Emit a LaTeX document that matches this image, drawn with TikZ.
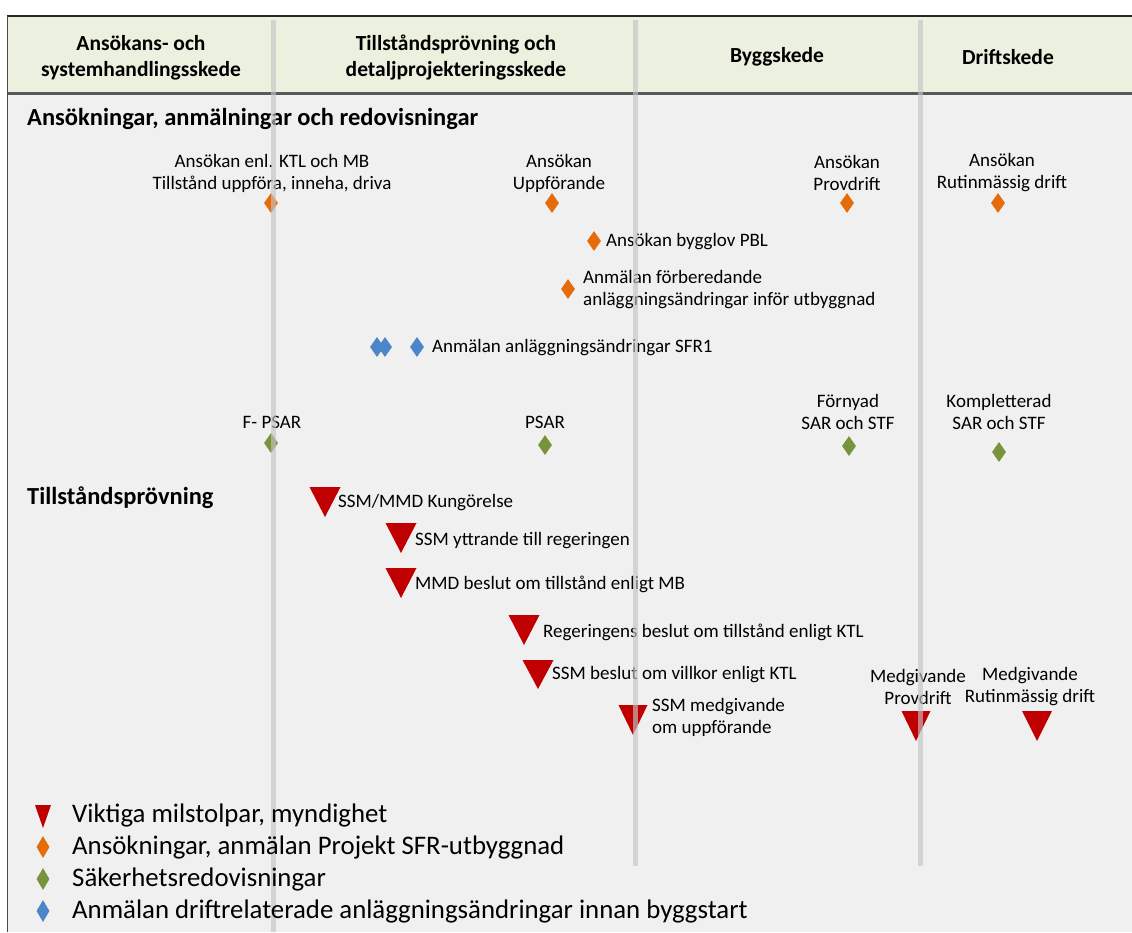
\documentclass[tikz,border=0pt]{standalone}
\usepackage{fontspec}
\setmainfont{Carlito}
\usetikzlibrary{shapes.geometric}
\definecolor{hdr}{HTML}{EBF1DE}
\definecolor{bg}{HTML}{F0F0F0}
\definecolor{vline}{HTML}{C4C4C4}
\definecolor{org}{HTML}{E46C0A}
\definecolor{grn}{HTML}{77933C}
\definecolor{blu}{HTML}{4A86C8}
\definecolor{rd}{HTML}{C00000}
\tikzset{
  dia/.style={diamond, inner sep=0pt, minimum width=14pt, minimum height=20pt, fill=#1},
  ldia/.style={diamond, inner sep=0pt, minimum width=13pt, minimum height=22pt, fill=#1},
  lbl/.style={font=\fontsize{19}{22}\selectfont, inner sep=0pt, align=center},
  hd/.style={font=\fontsize{21.5}{26}\selectfont\bfseries, inner sep=0pt, align=center},
  sec/.style={font=\fontsize{24.5}{28}\selectfont\bfseries, inner sep=0pt, anchor=west},
  leg/.style={font=\fontsize{26.8}{30}\selectfont, inner sep=0pt, anchor=west},
  phase/.style={draw=vline, line width=5pt, opacity=0.65}
}
\newcommand{\redtri}[3]{\fill[rd] (#1) ++(-#2/2,0) -- ++(#2,0) -- ++(-#2/2,#3) -- cycle;}
\begin{document}
\begin{tikzpicture}[x=1pt,y=-1pt]
\useasboundingbox (0,0) rectangle (1132,932);
\fill[white] (0,0) rectangle (1132,932);
\fill[bg] (7,94) rectangle (1132,932);
\fill[hdr] (7,17) rectangle (1132,93);
\draw[line width=2pt, black!85] (7,16) -- (1132,16);
\draw[line width=2.5pt, black!65] (7,93.5) -- (1132,93.5);
\draw[line width=1pt, black!70] (7,16) -- (7,932);

% header
\node[hd] (h1) at (141,58) {Ansökans- och\\systemhandlingsskede};
\node[hd] (h2) at (456,58) {Tillståndsprövning och\\detaljprojekteringsskede};
\node[hd] (h3) at (777,57) {Byggskede};
\node[hd] (h4) at (1008,57) {Driftskede};

% section titles
\node[sec] (s1) at (27,119) {Ansökningar, anmälningar och redovisningar};
\node[sec] (s2) at (27,498) {Tillståndsprövning};

% orange diamonds
\node[dia=org] (o1) at (271,203) {};
\node[lbl] (o1l) at (272,173) {Ansökan enl. KTL och MB\\Tillstånd uppföra, inneha, driva};
\node[dia=org] (o2) at (552,203) {};
\node[lbl] (o2l) at (559,173) {Ansökan\\Uppförande};
\node[dia=org] (o3) at (847,203) {};
\node[lbl] (o3l) at (847,173) {Ansökan\\Provdrift};
\node[dia=org] (o4) at (998,203) {};
\node[lbl] (o4l) at (1002,173) {Ansökan\\Rutinmässig drift};
\node[dia=org] (o5) at (594,241) {};
\node[lbl, anchor=west] (o5l) at (606,242) {Ansökan bygglov PBL};
\node[dia=org] (o6) at (568,289) {};
\node[lbl, anchor=west, align=left] (o6l) at (583,290) {Anmälan förberedande\\anläggningsändringar inför utbyggnad};

% blue diamonds
\node[dia=blu] (b1) at (377,347) {};
\node[dia=blu] (b2) at (385,347) {};
\node[dia=blu] (b3) at (417,347) {};
\node[lbl, anchor=west] (b3l) at (432,348) {Anmälan anläggningsändringar SFR1};

% green diamonds
\node[dia=grn] (g1) at (271,443) {};
\node[lbl] (g1l) at (272,422) {F- PSAR};
\node[dia=grn] (g2) at (545,445) {};
\node[lbl] (g2l) at (545,422) {PSAR};
\node[dia=grn] (g3) at (849,446) {};
\node[lbl] (g3l) at (848,412) {Förnyad\\SAR och STF};
\node[dia=grn] (g4) at (999,452) {};
\node[lbl] (g4l) at (999,412) {Kompletterad\\SAR och STF};

% red triangles (top-centre coordinates)
\coordinate (r1) at (325,487);
\coordinate (r2) at (401,523);
\coordinate (r3) at (401,568);
\coordinate (r4) at (524,615);
\coordinate (r5) at (538,660);
\coordinate (r6) at (633,705);
\coordinate (r7) at (916,711);
\coordinate (r8) at (1037,711);
\redtri{r1}{31}{30}
\redtri{r2}{31}{30}
\redtri{r3}{31}{30}
\redtri{r4}{31}{30}
\redtri{r5}{31}{29}
\redtri{r6}{29}{30}
\redtri{r7}{29}{30}
\redtri{r8}{30}{30}
\node[lbl, anchor=west] (r1l) at (338,503) {SSM/MMD Kungörelse};
\node[lbl, anchor=west] (r2l) at (415,541) {SSM yttrande till regeringen};
\node[lbl, anchor=west] (r3l) at (415,584) {MMD beslut om tillstånd enligt MB};
\node[lbl, anchor=west] (r4l) at (543,632) {Regeringens beslut om tillstånd enligt KTL};
\node[lbl, anchor=west] (r5l) at (552,675) {SSM beslut om villkor enligt KTL};
\node[lbl, anchor=west, align=left] (r6l) at (652,717) {SSM medgivande\\om uppförande};
\node[lbl] (r7l) at (918,687) {Medgivande\\Provdrift};
\node[lbl] (r8l) at (1030,687) {Medgivande\\Rutinmässig drift};

% phase lines (drawn over, semi-transparent)
\draw[phase] (273,20) -- (273,932);
\draw[phase] (635,20) -- (635,866);
\draw[phase] (920,20) -- (920,866);

% legend
\coordinate (lt) at (43,805);
\redtri{lt}{16}{23}
\node[leg] (l1) at (72,815) {Viktiga milstolpar, myndighet};
\node[ldia=org] (ld2) at (43,847) {};
\node[leg] (l2) at (72,847) {Ansökningar, anmälan Projekt SFR-utbyggnad};
\node[ldia=grn] (ld3) at (43,879) {};
\node[leg] (l3) at (72,879) {Säkerhetsredovisningar};
\node[ldia=blu] (ld4) at (43,911) {};
\node[leg] (l4) at (72,911) {Anmälan driftrelaterade anläggningsändringar innan byggstart};
\end{tikzpicture}
\end{document}
